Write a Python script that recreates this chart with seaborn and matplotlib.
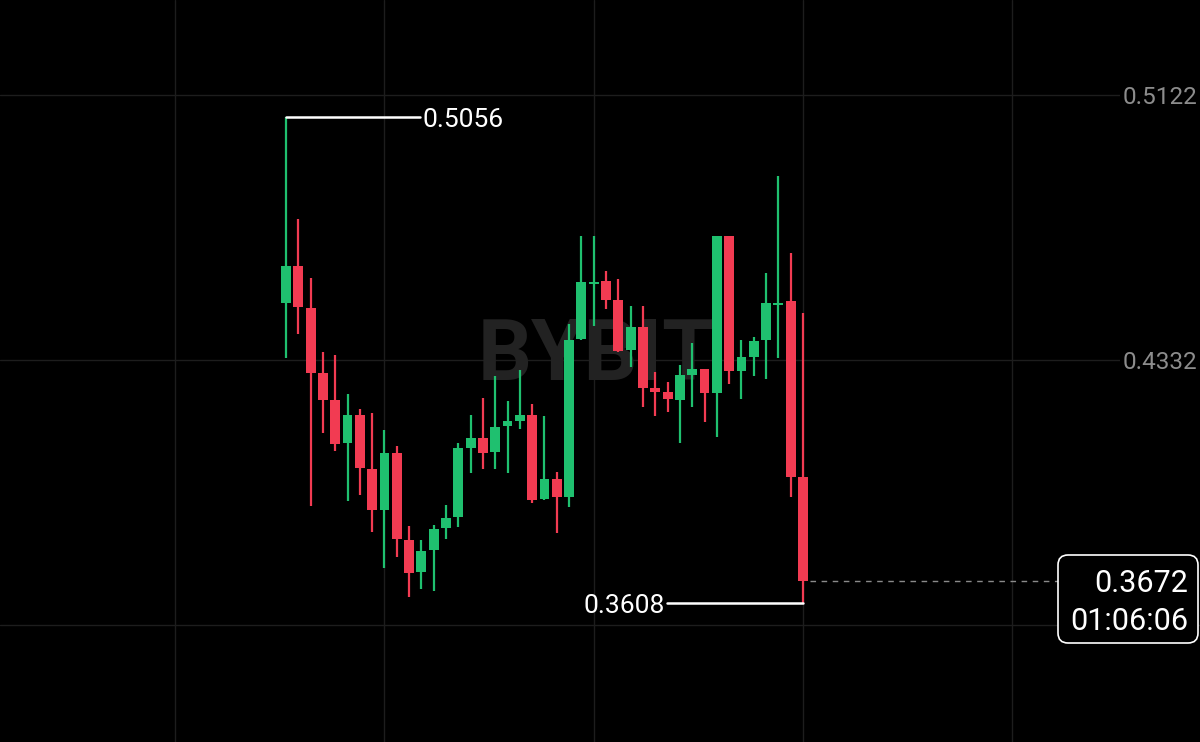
import numpy as np
import pandas as pd
import matplotlib
matplotlib.use("Agg")
import matplotlib.pyplot as plt
import seaborn as sns
from matplotlib.patches import FancyBboxPatch
from matplotlib.transforms import IdentityTransform, offset_copy

# OHLC, one candle per entry
opens = [0.4503, 0.4613, 0.4488, 0.4292, 0.4212, 0.4083, 0.4168, 0.4008, 0.3885, 0.4054,
         0.3795, 0.3699, 0.3766, 0.3830, 0.3865, 0.4069, 0.4099, 0.4057, 0.4136, 0.4150,
         0.4168, 0.3917, 0.3976, 0.3924, 0.4394, 0.4559, 0.4568, 0.4510, 0.4362, 0.4429,
         0.4248, 0.4235, 0.4213, 0.4287, 0.4305, 0.4233, 0.4700, 0.4300, 0.4342, 0.4390,
         0.4496, 0.4508, 0.3982]
closes = [0.4613, 0.4489, 0.4294, 0.4213, 0.4082, 0.4168, 0.4011, 0.3885, 0.4054, 0.3798,
          0.3698, 0.3763, 0.3827, 0.3862, 0.4069, 0.4099, 0.4056, 0.4133, 0.4150, 0.4168,
          0.3915, 0.3976, 0.3924, 0.4392, 0.4564, 0.4564, 0.4511, 0.4360, 0.4429, 0.4249,
          0.4236, 0.4215, 0.4287, 0.4305, 0.4233, 0.4700, 0.4300, 0.4340, 0.4389, 0.4501,
          0.4501, 0.3984, 0.3672]
highs = [0.5056, 0.4752, 0.4577, 0.4355, 0.4347, 0.4230, 0.4186, 0.4175, 0.4123, 0.4074,
         0.3837, 0.3795, 0.3840, 0.3899, 0.4084, 0.4168, 0.4218, 0.4285, 0.4211, 0.4302,
         0.4200, 0.4165, 0.3997, 0.4438, 0.4700, 0.4700, 0.4597, 0.4573, 0.4493, 0.4494,
         0.4297, 0.4266, 0.4317, 0.4382, 0.4305, 0.4700, 0.4700, 0.4392, 0.4400, 0.4590,
         0.4881, 0.4652, 0.4471]
lows = [0.4338, 0.4409, 0.3897, 0.4115, 0.4062, 0.3910, 0.3929, 0.3818, 0.3711, 0.3744,
        0.3625, 0.3649, 0.3644, 0.3797, 0.3835, 0.3994, 0.4006, 0.4006, 0.3996, 0.4125,
        0.3905, 0.3915, 0.3815, 0.3893, 0.4390, 0.4433, 0.4483, 0.4355, 0.4312, 0.4193,
        0.4166, 0.4178, 0.4084, 0.4193, 0.4146, 0.4103, 0.4260, 0.4215, 0.4284, 0.4275,
        0.4339, 0.3923, 0.3608]

price_ticks = [0.5122, 0.4332, 0.3542]
tick_labels = ["0.5122", "0.4332", ""]
time_grid = [-9, 8, 25, 42, 59]
countdown = "01:06:06"

GREEN = "#1fc06f"
RED = "#f23b52"
GRID = "#1d1d1d"

df = pd.DataFrame({"open": opens, "high": highs, "low": lows, "close": closes})
df["x"] = np.arange(len(df))
df["up"] = df["close"] >= df["open"]

sns.set_theme(style="dark", rc={
    "figure.facecolor": "black",
    "axes.facecolor": "black",
    "savefig.facecolor": "black",
})
plt.rcParams["font.family"] = ["Roboto", "DejaVu Sans"]

fig = plt.figure(figsize=(12, 7.42), dpi=100)
ax = fig.add_axes([0, 0, 1, 1])
ax.set_facecolor("black")


def nudge(tr):
    # text centre sits a bit high with va="center"; push down a few pixels
    return offset_copy(tr, fig=fig, y=-3, units="dots")


# grid
for p in price_ticks:
    ax.axhline(p, color=GRID, lw=1, zorder=0)
for t in time_grid:
    ax.axvline(t, color=GRID, lw=1, zorder=0)

# watermark
ax.text(596 / 1200, 1 - 357 / 742, "BYBIT", transform=ax.transAxes,
        ha="center", va="center", fontsize=61, fontweight="bold",
        color="#222222", zorder=0.5)

# candles
colors = np.where(df["up"], GREEN, RED)
ax.vlines(df["x"], df["low"], df["high"], colors=colors, lw=1.6, zorder=2)
body_lo = np.minimum(df["open"], df["close"])
body_h = np.maximum((df["close"] - df["open"]).abs(), 0.0005)
ax.bar(df["x"], body_h, bottom=body_lo, width=0.8, color=colors, linewidth=0, zorder=3)

ax.set_xlim(-23.23, 74.25)
ax.set_ylim(0.3193, 0.5405)
ax.set_xticks([])
ax.set_yticks([])
for s in ax.spines.values():
    s.set_visible(False)

# price labels on the right
for p, lab in zip(price_ticks, tick_labels):
    if lab:
        ax.text(0.9975, p, lab, transform=nudge(ax.get_yaxis_transform()), ha="right",
                va="center", fontsize=17.5, color="#8c8c8c", zorder=4,
                bbox=dict(facecolor="black", edgecolor="none", pad=2))

# high / low markers
hi_i = int(df["high"].idxmax())
hi = df["high"].max()
ax.plot([hi_i, hi_i + 10.9], [hi, hi], color="white", lw=1.8, zorder=4)
ax.text(hi_i + 11.1, hi, f"{hi:.4f}", color="white", fontsize=19,
        ha="left", va="center", zorder=4, transform=nudge(ax.transData))

lo_i = int(df["low"].idxmin())
lo = df["low"].min()
ax.plot([lo_i - 11.05, lo_i], [lo, lo], color="white", lw=1.8, zorder=4)
ax.text(lo_i - 11.2, lo, f"{lo:.4f}", color="white", fontsize=19,
        ha="right", va="center", zorder=4, transform=nudge(ax.transData))

# last price line + box
last = df["close"].iloc[-1]
ax.axhline(last, xmin=810 / 1200, xmax=1058 / 1200, color="#8a8a8a", lw=1,
           ls=(0, (4, 4)), zorder=4)
box = FancyBboxPatch((1058, 99), 140, 88, boxstyle="round,pad=0,rounding_size=10",
                     transform=IdentityTransform(), facecolor="black",
                     edgecolor="white", lw=1.2, zorder=5)
ax.add_patch(box)
ax.text(1188 / 1200, 1 - 581 / 742, f"{last:.4f}", transform=nudge(ax.transAxes),
        ha="right", va="center", fontsize=22, color="white", zorder=6)
ax.text(1188 / 1200, 1 - 619 / 742, countdown, transform=nudge(ax.transAxes),
        ha="right", va="center", fontsize=22, color="white", zorder=6)

fig.savefig("out.png", dpi=100)
